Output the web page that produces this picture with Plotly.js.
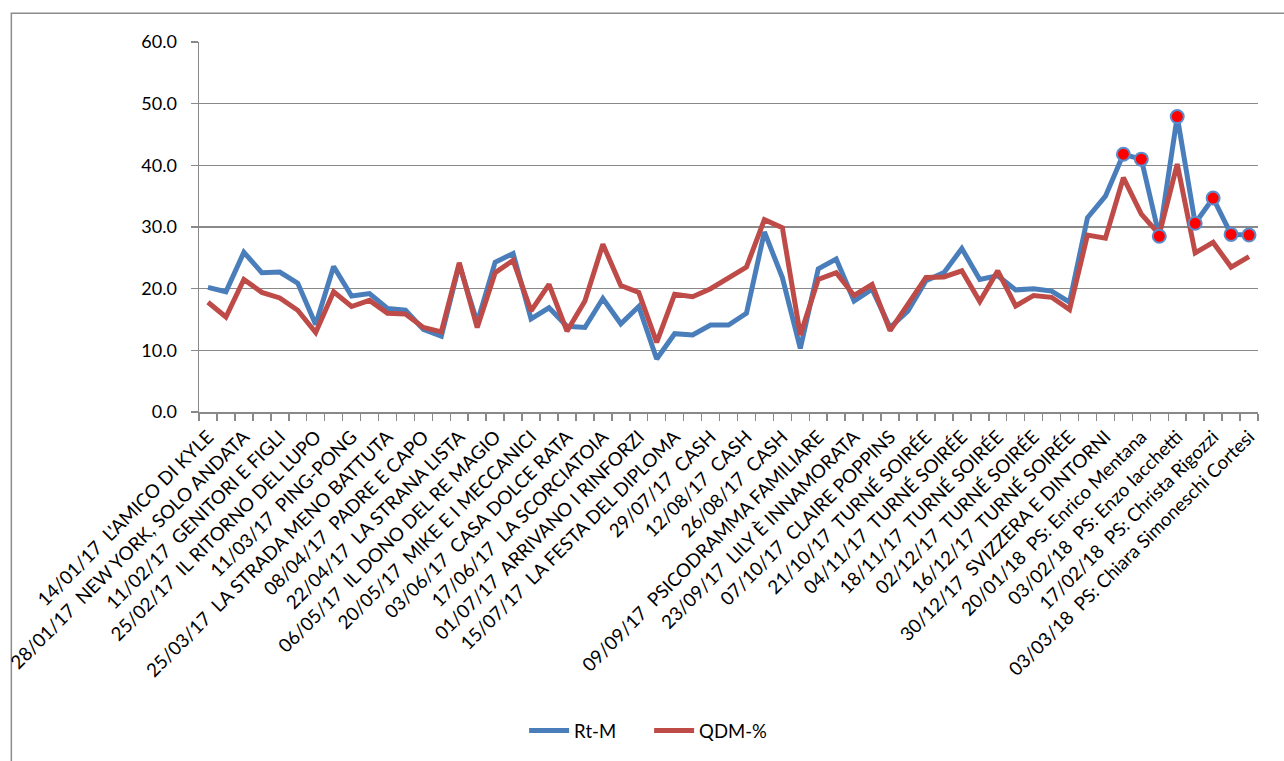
<!DOCTYPE html>
<html>
<head>
<meta charset="utf-8">
<script src="https://cdn.plot.ly/plotly-3.0.1.min.js"></script>
<style>html,body{margin:0;padding:0;background:#fff;}#chart{width:1284px;height:761px;}</style>
</head>
<body>
<div id="chart"></div>
<script>
const categories = [
  "14/01/17  L'AMICO DI KYLE", "21/01/17",
  "28/01/17  NEW YORK, SOLO ANDATA", "04/02/17",
  "11/02/17  GENITORI E FIGLI", "18/02/17",
  "25/02/17  IL RITORNO DEL LUPO", "04/03/17",
  "11/03/17  PING-PONG", "18/03/17",
  "25/03/17  LA STRADA MENO BATTUTA", "01/04/17",
  "08/04/17  PADRE E CAPO", "15/04/17",
  "22/04/17  LA STRANA LISTA", "29/04/17",
  "06/05/17  IL DONO DEL RE MAGIO", "13/05/17",
  "20/05/17  MIKE E I MECCANICI", "27/05/17",
  "03/06/17  CASA DOLCE RATA", "10/06/17",
  "17/06/17  LA SCORCIATOIA", "24/06/17",
  "01/07/17  ARRIVANO I RINFORZI", "08/07/17",
  "15/07/17  LA FESTA DEL DIPLOMA", "22/07/17",
  "29/07/17  CASH", "05/08/17",
  "12/08/17  CASH", "19/08/17",
  "26/08/17  CASH", "02/09/17",
  "09/09/17  PSICODRAMMA FAMILIARE", "16/09/17",
  "23/09/17  LILY È INNAMORATA", "30/09/17",
  "07/10/17  CLAIRE POPPINS", "14/10/17",
  "21/10/17  TURNÉ SOIRÉE", "28/10/17",
  "04/11/17  TURNÉ SOIRÉE", "11/11/17",
  "18/11/17  TURNÉ SOIRÉE", "25/11/17",
  "02/12/17  TURNÉ SOIRÉE", "09/12/17",
  "16/12/17  TURNÉ SOIRÉE", "23/12/17",
  "30/12/17  SVIZZERA E DINTORNI", "13/01/18",
  "20/01/18  PS: Enrico Mentana", "27/01/18",
  "03/02/18  PS: Enzo Iacchetti", "10/02/18",
  "17/02/18  PS: Christa Rigozzi", "24/02/18",
  "03/03/18  PS: Chiara Simoneschi Cortesi"
];

const rtM = [
  20.2, 19.5, 25.9, 22.6, 22.7, 20.9, 14.2, 23.6, 18.8, 19.2,
  16.8, 16.5, 13.4, 12.3, 23.9, 14.5, 24.3, 25.7, 15.1, 16.9,
  13.9, 13.7, 18.4, 14.3, 17.1, 8.6, 12.7, 12.5, 14.1, 14.1,
  16.0, 29.2, 21.8, 10.3, 23.2, 24.8, 18.0, 19.9, 13.7, 16.4,
  21.3, 22.6, 26.5, 21.5, 22.1, 19.8, 20.0, 19.6, 17.8, 31.5,
  35.0, 41.8, 41.0, 28.5, 47.9, 30.6, 34.7, 28.8, 28.7
];

const qdm = [
  17.8, 15.4, 21.5, 19.4, 18.5, 16.5, 12.9, 19.5, 17.1, 18.1,
  16.0, 15.9, 13.7, 13.0, 24.2, 13.7, 22.6, 24.6, 16.4, 20.7,
  13.1, 18.0, 27.2, 20.5, 19.4, 11.3, 19.1, 18.7, 20.0, 21.8,
  23.5, 31.2, 29.9, 12.5, 21.5, 22.6, 18.9, 20.7, 13.2, 17.5,
  21.8, 21.9, 22.9, 17.9, 22.9, 17.2, 18.9, 18.6, 16.6, 28.7,
  28.2, 38.0, 32.1, 28.8, 40.2, 25.8, 27.5, 23.5, 25.2
];

// weeks highlighted with a red dot on the Rt-M line
const highlighted = [51, 52, 53, 54, 55, 56, 57, 58];

const tickLabels = categories.map((c, i) => (i % 2 === 0 ? c : ""));

const BLUE = "#4A7EBB";
const RED = "#BE4B48";
const GRID = "#898989";
const FONT = "Lato, 'Open Sans', sans-serif";

const traces = [
  {
    type: "scatter", mode: "lines", name: "Rt-M",
    x: categories, y: rtM,
    line: { color: BLUE, width: 5 }
  },
  {
    type: "scatter", mode: "lines", name: "QDM-%",
    x: categories, y: qdm,
    line: { color: RED, width: 5 }
  },
  {
    type: "scatter", mode: "markers", name: "evidenza", showlegend: false,
    x: highlighted.map(i => categories[i]),
    y: highlighted.map(i => rtM[i]),
    marker: { color: "#FF0000", size: 13, line: { color: "#5B8CCB", width: 2 } }
  }
];

const layout = {
  width: 1284, height: 761,
  paper_bgcolor: "#ffffff", plot_bgcolor: "#ffffff",
  margin: { l: 199, r: 26, t: 42, b: 348 },
  font: { family: FONT, color: "#000000", size: 18 },
  showlegend: true,
  legend: {
    orientation: "h", x: 0.307, xanchor: "left", y: -0.857, yanchor: "middle",
    font: { family: FONT, size: 18.5, color: "#000" },
    entrywidth: 70, entrywidthmode: "pixels",
    itemwidth: 40, bgcolor: "rgba(0,0,0,0)"
  },
  xaxis: {
    type: "category",
    tickmode: "array", tickvals: categories, ticktext: tickLabels,
    tickson: "boundaries", ticks: "outside", ticklen: 7, tickcolor: GRID, tickwidth: 1.5,
    tickangle: -45, ticklabelstandoff: 5,
    tickfont: { family: FONT, size: 18.8, color: "#000" },
    showline: true, linecolor: GRID, linewidth: 1.5,
    showgrid: false, zeroline: false,
    range: [-0.5, 58.5], fixedrange: true
  },
  yaxis: {
    range: [0, 60], dtick: 10, tick0: 0, tickformat: ".1f",
    ticks: "outside", ticklen: 7, tickcolor: GRID, tickwidth: 1.5,
    ticklabelstandoff: 10,
    tickfont: { family: FONT, size: 18, color: "#000" },
    showline: true, linecolor: GRID, linewidth: 1.5,
    showgrid: true, gridcolor: GRID, gridwidth: 1.5,
    zeroline: false, fixedrange: true
  },
  shapes: [
    {
      type: "rect", xref: "paper", yref: "paper",
      x0: -0.1772, x1: 1.06, y0: -1.06, y1: 1.078,
      line: { color: "#8C8C8C", width: 1.5 }, fillcolor: "rgba(0,0,0,0)", layer: "below"
    }
  ]
};

Plotly.newPlot("chart", traces, layout, { displayModeBar: false, staticPlot: true });
</script>
</body>
</html>
